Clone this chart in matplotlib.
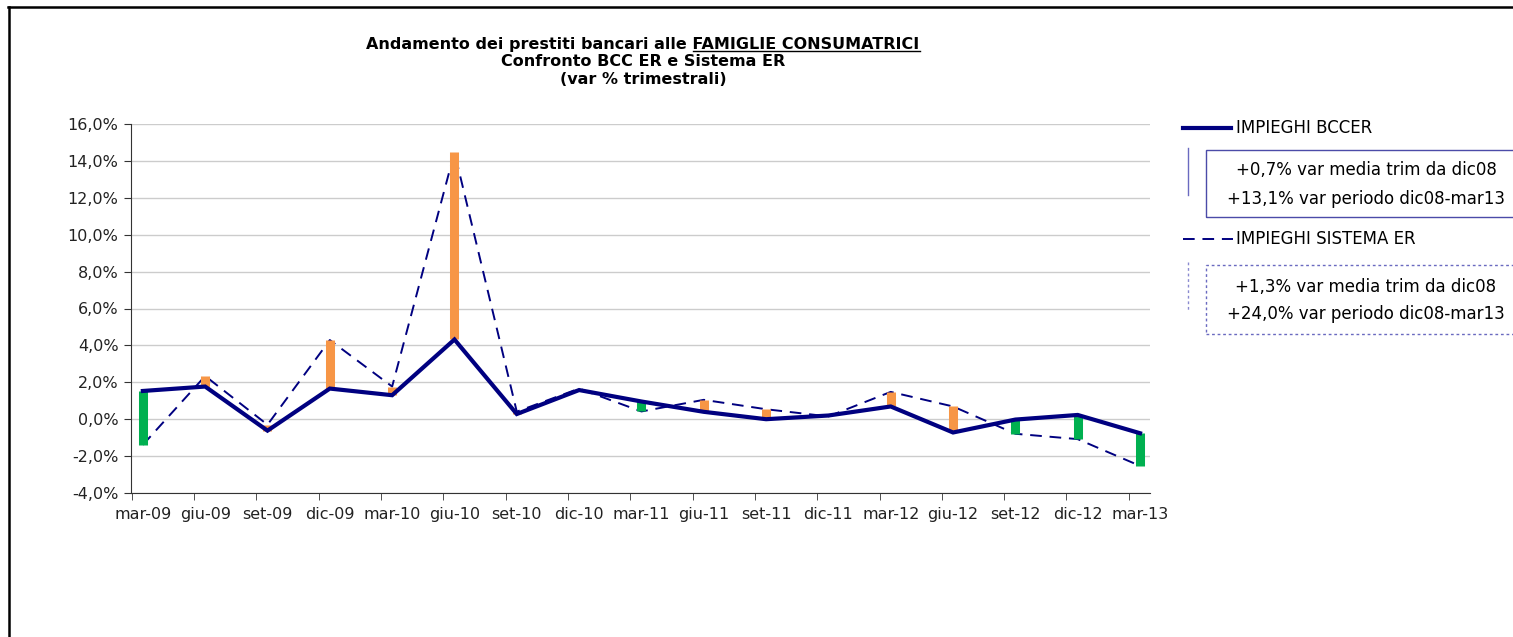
import matplotlib
matplotlib.use("Agg")
import matplotlib.pyplot as plt
from matplotlib.lines import Line2D
from matplotlib.patches import Rectangle
from matplotlib.ticker import FuncFormatter

# trimestri
trimestri = ["mar-09", "giu-09", "set-09", "dic-09", "mar-10", "giu-10", "set-10",
             "dic-10", "mar-11", "giu-11", "set-11", "dic-11", "mar-12", "giu-12",
             "set-12", "dic-12", "mar-13"]

# var % trimestrali
bccer = [1.53, 1.77, -0.62, 1.66, 1.30, 4.32, 0.28, 1.58, 0.96, 0.40, 0.0, 0.20,
         0.69, -0.72, -0.02, 0.23, -0.76]
sistema = [-1.39, 2.34, -0.30, 4.29, 1.77, 14.47, 0.41, 1.66, 0.42, 1.05, 0.54, 0.15,
           1.48, 0.69, -0.79, -1.08, -2.53]

titolo = ["Andamento dei prestiti bancari alle ", "FAMIGLIE CONSUMATRICI",
          "Confronto BCC ER e Sistema ER", "(var % trimestrali)"]
nome_bcc = "IMPIEGHI BCCER"
nome_sis = "IMPIEGHI SISTEMA ER"
note_bcc = ["+0,7% var media trim da dic08", "+13,1% var periodo dic08-mar13"]
note_sis = ["+1,3% var media trim da dic08", "+24,0% var periodo dic08-mar13"]

NAVY = "#000080"
ORANGE = "#F79646"
GREEN = "#00B050"
BOXC = "#4B4BA8"

W, H = 1513, 637
fig = plt.figure(figsize=(W / 100, H / 100), dpi=100)
plt.rcParams['font.family'] = ['DejaVu Sans']


def fx(px):
    return px / W


def fy(py):
    return 1 - py / H


ax = fig.add_axes([fx(131), fy(493), fx(1150 - 131), (493 - 124) / H])
x = list(range(len(trimestri)))

# barre di differenza
for i in x:
    col = ORANGE if sistema[i] > bccer[i] else GREEN
    ax.vlines(i, bccer[i], sistema[i], colors=col, linewidth=6.5, zorder=3)

ax.plot(x, sistema, color=NAVY, lw=1.4, linestyle=(0, (6, 4)), zorder=2)
ax.plot(x, bccer, color=NAVY, lw=3, zorder=4, solid_joinstyle="miter")

ax.set_ylim(-4, 16)
ax.set_yticks(range(-4, 17, 2))
ax.yaxis.set_major_formatter(FuncFormatter(lambda v, p: ("%.1f%%" % v).replace(".", ",")))
ax.set_xlim(-0.19, 16.16)
ax.set_xticks(x)
ax.set_xticklabels(trimestri)
ax.set_xticks([i - 0.18 for i in x], minor=True)
ax.tick_params(axis="x", which="major", length=0, pad=10, labelsize=11.5, colors="#222222")
ax.tick_params(axis="x", which="minor", length=5, color="#333333")
ax.tick_params(axis="y", length=5, color="#333333", labelsize=11.5, labelcolor="#222222", pad=4)
ax.grid(axis="y", color="#CCCCCC", lw=1)
ax.set_axisbelow(True)
for s in ["top", "right"]:
    ax.spines[s].set_visible(False)
ax.spines["left"].set_color("#333333")
ax.spines["bottom"].set_color("#333333")

# titolo con sottolineatura
TS = 11.5
t1 = fig.text(fx(643), fy(44), titolo[0] + titolo[1], ha="center", va="center",
              fontsize=TS, fontweight="bold")
fig.text(fx(643), fy(62), titolo[2], ha="center", va="center", fontsize=TS, fontweight="bold")
fig.text(fx(643), fy(80), titolo[3], ha="center", va="center", fontsize=TS, fontweight="bold")
fig.canvas.draw()
r = fig.canvas.get_renderer()
bb = t1.get_window_extent(r)
tmp = fig.text(0, 0, titolo[1], fontsize=TS, fontweight="bold")
wpart = tmp.get_window_extent(r).width
tmp.remove()
fig.add_artist(Line2D([bb.x1 - wpart, bb.x1], [bb.y0 + 1, bb.y0 + 1],
                      transform=None, color="black", lw=1))

# legenda
fig.add_artist(Line2D([fx(1183), fx(1231)], [fy(128), fy(128)], color=NAVY, lw=3))
fig.text(fx(1236), fy(128), nome_bcc, va="center", fontsize=12)
fig.add_artist(Line2D([fx(1183), fx(1233)], [fy(239), fy(239)], color=NAVY, lw=1.4,
                      linestyle=(0, (6, 4))))
fig.text(fx(1236), fy(239), nome_sis, va="center", fontsize=12)

# riquadri note
fig.add_artist(Rectangle((fx(1206), fy(217)), fx(400), (217 - 150) / H,
                         fill=False, edgecolor=BOXC, lw=1))
fig.add_artist(Line2D([fx(1188), fx(1188)], [fy(148), fy(195)], color="#6A6AC0", lw=1))
fig.text(fx(1366), fy(170), note_bcc[0], ha="center", va="center", fontsize=12)
fig.text(fx(1366), fy(199), note_bcc[1], ha="center", va="center", fontsize=12)

fig.add_artist(Rectangle((fx(1206), fy(334)), fx(400), (334 - 265) / H,
                         fill=False, edgecolor="#6A6AC0", lw=1, linestyle=(0, (2, 2))))
fig.add_artist(Line2D([fx(1188), fx(1188)], [fy(262), fy(312)], color="#8A8AD0", lw=1,
                      linestyle=(0, (2, 2))))
fig.text(fx(1366), fy(287), note_sis[0], ha="center", va="center", fontsize=12)
fig.text(fx(1366), fy(314), note_sis[1], ha="center", va="center", fontsize=12)

# bordo
fig.add_artist(Line2D([fx(8), fx(W)], [fy(7), fy(7)], color="black", lw=1.8))
fig.add_artist(Line2D([fx(9), fx(9)], [fy(7), fy(H)], color="black", lw=1.8))

fig.savefig("out.png", dpi=100)
